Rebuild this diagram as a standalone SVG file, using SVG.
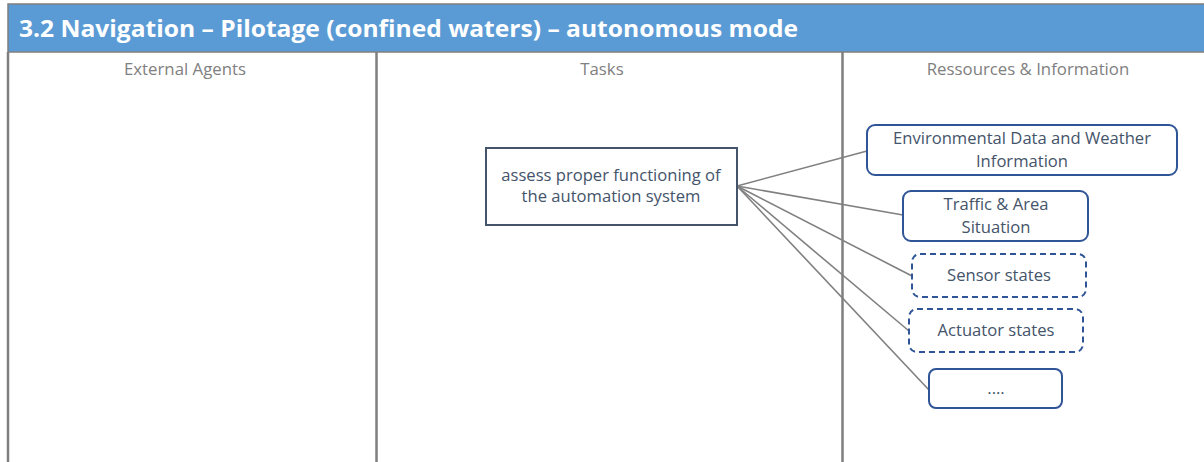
<svg xmlns="http://www.w3.org/2000/svg" width="1204" height="462" viewBox="0 0 1204 462">
  <style>
    .title { font-family: "Open Sans", "Liberation Sans", sans-serif; font-weight: bold; font-size: 23px; fill: #ffffff; }
    .colhead { font-family: "Open Sans", "Liberation Sans", sans-serif; font-size: 16.8px; fill: #808080; text-anchor: middle; }
    .label { font-family: "Open Sans", "Liberation Sans", sans-serif; font-size: 16.6px; fill: #44546a; text-anchor: middle; }
    .task { fill: #ffffff; stroke: #44546a; stroke-width: 2; }
    .res { fill: #ffffff; stroke: #2f5597; stroke-width: 2; }
    .res.dashed { stroke-dasharray: 6 4; }
    .divider { stroke: #7f7f7f; stroke-width: 2.5; }
    .link { stroke: #808080; stroke-width: 1.6; fill: none; }
  </style>

  <rect x="0" y="0" width="1204" height="462" fill="#ffffff"/>

  <!-- title band -->
  <rect x="8" y="4" width="1198" height="48" fill="#5b9bd5" stroke="#7f7f7f" stroke-width="1.5"/>
  <text class="title" x="19" y="37" textLength="779" lengthAdjust="spacingAndGlyphs">3.2 Navigation – Pilotage (confined waters) – autonomous mode</text>

  <!-- swimlane borders -->
  <line class="divider" x1="8" y1="52" x2="8" y2="462"/>
  <line class="divider" x1="376.5" y1="52" x2="376.5" y2="462"/>
  <line class="divider" x1="842.5" y1="52" x2="842.5" y2="462"/>

  <text class="colhead" x="185" y="75">External Agents</text>
  <text class="colhead" x="602" y="75">Tasks</text>
  <text class="colhead" x="1028" y="75">Ressources &amp; Information</text>

  <!-- connectors -->
  <g id="connectors">
    <line class="link" x1="737" y1="186" x2="867" y2="151"/>
    <line class="link" x1="737" y1="186" x2="903" y2="215"/>
    <line class="link" x1="737" y1="186" x2="912" y2="276"/>
    <line class="link" x1="737" y1="186" x2="909" y2="331"/>
    <line class="link" x1="737" y1="186" x2="929" y2="390"/>
  </g>

  <!-- task -->
  <g id="task-assess">
    <rect class="task" x="486" y="148" width="251" height="77"/>
    <text class="label" x="611" y="181">assess proper functioning of</text>
    <text class="label" x="611" y="202">the automation system</text>
  </g>

  <!-- resources -->
  <g id="res-environment">
    <rect class="res" x="867" y="125" width="310" height="50" rx="8"/>
    <text class="label" x="1022" y="144">Environmental Data and Weather</text>
    <text class="label" x="1022" y="167">Information</text>
  </g>
  <g id="res-traffic">
    <rect class="res" x="903" y="191" width="185" height="50" rx="8"/>
    <text class="label" x="996" y="210">Traffic &amp; Area</text>
    <text class="label" x="996" y="233">Situation</text>
  </g>
  <g id="res-sensor">
    <rect class="res dashed" x="912" y="254" width="174" height="43" rx="8"/>
    <text class="label" x="999" y="281">Sensor states</text>
  </g>
  <g id="res-actuator">
    <rect class="res dashed" x="909" y="309" width="174" height="43" rx="8"/>
    <text class="label" x="996" y="336">Actuator states</text>
  </g>
  <g id="res-more">
    <rect class="res" x="929" y="369" width="133" height="39" rx="7"/>
    <text class="label" x="996" y="394">....</text>
  </g>
</svg>
